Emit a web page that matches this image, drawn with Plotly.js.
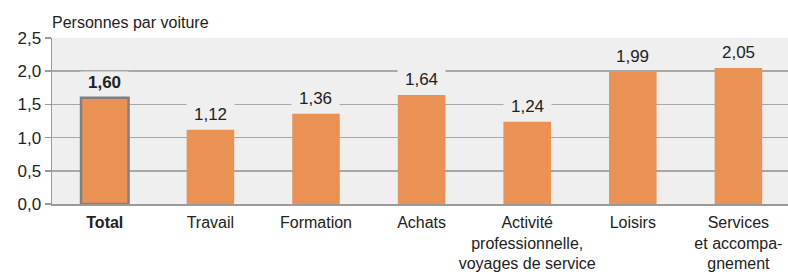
<!DOCTYPE html>
<html>
<head>
<meta charset="utf-8">
<script src="https://cdn.plot.ly/plotly-3.0.1.min.js"></script>
<style>html,body{margin:0;padding:0;background:#fff;}#chart{width:788px;height:276px;}</style>
</head>
<body>
<div id="chart"></div>
<script>
const categories = ["Total", "Travail", "Formation", "Achats", "Activité professionnelle, voyages de service", "Loisirs", "Services et accompagnement"];
const tickLabels = ["<b>Total</b>", "Travail", "Formation", "Achats", "Activité<br>professionnelle,<br>voyages de service", "Loisirs", "Services<br>et accompa-<br>gnement"];
const values = [1.60, 1.12, 1.36, 1.64, 1.24, 1.99, 2.05];
const yTicks = [0, 0.5, 1.0, 1.5, 2.0, 2.5];

const plotBg = "#efefef";
const barColor = "#ea9254";
const font = "Liberation Sans, Arial, sans-serif";
const txt = "#222";

const xIdx = categories.map((c, i) => i);

const trace = {
  type: "bar",
  x: xIdx,
  y: values,
  width: 0.45,
  marker: {
    color: barColor,
    line: {color: values.map((v, i) => i === 0 ? "#808080" : barColor), width: values.map((v, i) => i === 0 ? 2.5 : 0)}
  },
  hoverinfo: "skip"
};

const annotations = values.map((v, i) => ({
  x: i, y: v, xref: "x", yref: "y",
  text: (i === 0 ? "<b>" : "") + v.toFixed(2).replace(".", ",") + (i === 0 ? "</b>" : ""),
  showarrow: false, yanchor: "bottom", yshift: 4,
  bgcolor: plotBg, width: 47, height: 21, borderpad: 0,
  font: {family: font, size: 17, color: txt}
}));
annotations.push({
  text: "Personnes par voiture", xref: "paper", yref: "paper", x: 0, y: 1, xanchor: "left", yanchor: "bottom",
  yshift: 5, xshift: -2, showarrow: false, font: {family: font, size: 16, color: txt}
});

const layout = {
  width: 788, height: 276,
  margin: {l: 52, r: 0, t: 38, b: 72},
  paper_bgcolor: "#ffffff",
  plot_bgcolor: plotBg,
  separators: ",.",
  showlegend: false,
  font: {family: font, size: 16, color: txt},
  xaxis: {
    range: [-0.5, 6.47],
    tickvals: xIdx, ticktext: tickLabels,
    showgrid: false, ticks: "", showline: true, linecolor: "#9a9a9a", linewidth: 1.5,
    ticklabelstandoff: 3,
    tickfont: {family: font, size: 16, color: txt}, fixedrange: true
  },
  yaxis: {
    range: [0, 2.5], tickvals: yTicks, tickformat: ".1f",
    showgrid: true, gridcolor: "#a8a8a8", gridwidth: 1.5,
    showline: true, linecolor: "#9a9a9a", linewidth: 1.5,
    ticks: "outside", ticklen: 6, tickcolor: "#9a9a9a", tickwidth: 1.5,
    zeroline: false,
    tickfont: {family: font, size: 17, color: txt}, fixedrange: true
  },
  annotations: annotations
};

Plotly.newPlot("chart", [trace], layout, {displayModeBar: false, staticPlot: true});
</script>
</body>
</html>
